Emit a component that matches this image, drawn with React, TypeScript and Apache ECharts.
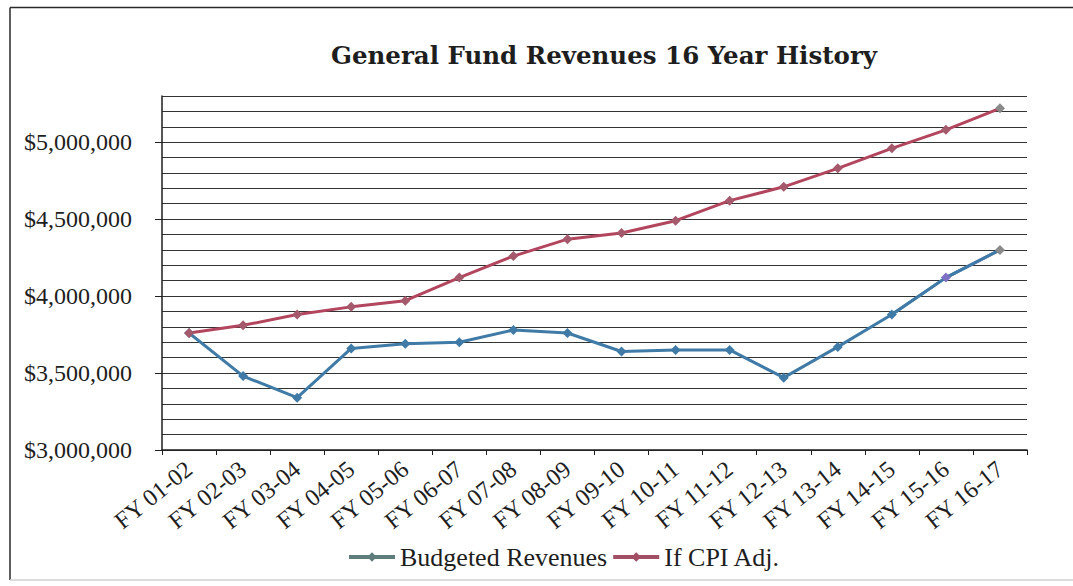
import React, { useEffect, useRef } from "react";
import * as echarts from "echarts";

// Fiscal years shown on the category axis
const fiscalYears = [
  "FY 01-02", "FY 02-03", "FY 03-04", "FY 04-05", "FY 05-06", "FY 06-07",
  "FY 07-08", "FY 08-09", "FY 09-10", "FY 10-11", "FY 11-12", "FY 12-13",
  "FY 13-14", "FY 14-15", "FY 15-16", "FY 16-17",
];

// General fund revenues as budgeted
const budgetedRevenues = [
  3760000, 3480000, 3340000, 3660000, 3690000, 3700000, 3780000, 3760000,
  3640000, 3650000, 3650000, 3470000, 3670000, 3880000, 4120000, 4300000,
];

// FY 01-02 revenues carried forward with CPI adjustment
const cpiAdjusted = [
  3760000, 3810000, 3880000, 3930000, 3970000, 4120000, 4260000, 4370000,
  4410000, 4490000, 4620000, 4710000, 4830000, 4960000, 5080000, 5220000,
];

// Labelled values on the revenue axis
const revenueTicks = [3000000, 3500000, 4000000, 4500000, 5000000];

const Y_MIN = 3000000;
const Y_MAX = 5300000;
const GRID_STEP = 100000;

const SERIF = "'Liberation Serif', 'Times New Roman', serif";
const BLUE = "#3f7ba6";
const PURPLE = "#7e70c4";
const RED = "#b3465f";
const LAST_MARK = "#8a8a8a";
const INK = "#1e1e1e";

// The last stretch of the budgeted line turns from blue to purple
const RECENT_FROM = 13;

const formatDollars = (v: number) =>
  "$" + Math.round(v).toString().replace(/\B(?=(\d{3})+(?!\d))/g, ",");

export default function App() {
  const ref = useRef<HTMLDivElement>(null);

  useEffect(() => {
    if (!ref.current) return;
    const chart = echarts.init(ref.current, undefined, { renderer: "svg" });

    const lastIdx = budgetedRevenues.length - 1;
    const budgetedPoints = budgetedRevenues.map((v, i) => {
      if (i === lastIdx) return { value: v, itemStyle: { color: LAST_MARK } };
      if (i === lastIdx - 1) return { value: v, itemStyle: { color: PURPLE } };
      return v;
    });
    const cpiPoints = cpiAdjusted.map((v, i) =>
      i === cpiAdjusted.length - 1 ? { value: v, itemStyle: { color: LAST_MARK } } : v
    );
    const recentBudgeted = budgetedRevenues.map((v, i) => (i >= RECENT_FROM ? v : null));

    chart.setOption({
      animation: false,
      backgroundColor: "#ffffff",
      title: {
        text: "General Fund Revenues 16 Year History",
        left: 331,
        top: 43,
        padding: 0,
        textStyle: {
          fontFamily: "'DejaVu Serif', serif",
          fontWeight: "bold",
          fontSize: 24.5,
          color: INK,
        },
      },
      graphic: [
        {
          type: "line",
          shape: { x1: 10, y1: 7.5, x2: 1073, y2: 7.5 },
          style: { stroke: "#2a2a2a", lineWidth: 1.5 },
          silent: true,
        },
        {
          type: "line",
          shape: { x1: 10, y1: 7.5, x2: 10, y2: 580 },
          style: { stroke: "#2a2a2a", lineWidth: 1.5 },
          silent: true,
        },
        {
          type: "line",
          shape: { x1: 10, y1: 580, x2: 1073, y2: 580 },
          style: { stroke: "#d0d0d0", lineWidth: 1.5 },
          silent: true,
        },
      ],
      grid: { left: 162, right: 46, top: 96, bottom: 136 },
      legend: {
        left: 347,
        top: 544,
        padding: 0,
        itemWidth: 46,
        itemHeight: 12,
        itemGap: 4,
        textStyle: { fontFamily: SERIF, fontSize: 26, color: INK },
        data: [
          { name: "Budgeted Revenues", itemStyle: { color: "#5f7d7b" }, lineStyle: { color: "#5f7d7b", width: 4 } },
          { name: "If CPI Adj.", itemStyle: { color: "#a24e64" }, lineStyle: { color: "#a24e64", width: 4 } },
        ],
      },
      xAxis: {
        type: "category",
        data: fiscalYears,
        boundaryGap: true,
        axisLine: { lineStyle: { color: INK, width: 1.5 } },
        axisTick: { show: true, interval: 0, length: 5, lineStyle: { color: INK } },
        axisLabel: {
          interval: 0,
          rotate: 39,
          margin: 16,
          fontFamily: SERIF,
          fontSize: 24,
          color: INK,
        },
      },
      yAxis: [
        {
          // gridlines every 100,000
          type: "value",
          min: Y_MIN,
          max: Y_MAX,
          interval: GRID_STEP,
          axisLine: { show: true, lineStyle: { color: INK, width: 1.5 } },
          axisTick: { show: false },
          axisLabel: { show: false },
          splitLine: { show: true, lineStyle: { color: "#333333", width: 1 } },
        },
        {
          // labelled ticks every 500,000
          type: "value",
          position: "left",
          min: Y_MIN,
          max: Y_MAX,
          interval: GRID_STEP,
          axisLine: { show: false },
          axisTick: { show: true, customValues: revenueTicks, length: 7, lineStyle: { color: INK } },
          axisLabel: {
            customValues: revenueTicks,
            formatter: (v: number) => formatDollars(v),
            margin: 30,
            fontFamily: SERIF,
            fontSize: 24,
            color: INK,
          },
          splitLine: { show: false },
        },
      ],
      series: [
        {
          name: "Budgeted Revenues",
          type: "line",
          data: budgetedPoints,
          symbol: "diamond",
          symbolSize: 10,
          lineStyle: { width: 3, color: BLUE },
          itemStyle: { color: BLUE },
          z: 3,
        },
        {
          name: "Budgeted Revenues",
          type: "line",
          data: recentBudgeted,
          symbol: "none",
          silent: true,
          lineStyle: {
            width: 3,
            color: new echarts.graphic.LinearGradient(0, 0, 1, 0, [
              { offset: 0, color: BLUE },
              { offset: 0.62, color: BLUE },
              { offset: 0.75, color: PURPLE },
              { offset: 1, color: PURPLE },
            ]),
          },
          z: 2,
        },
        {
          name: "If CPI Adj.",
          type: "line",
          data: cpiPoints,
          symbol: "diamond",
          symbolSize: 10,
          lineStyle: { width: 3, color: RED },
          itemStyle: { color: "#a45a6c" },
          z: 3,
        },
      ],
    });
    return () => chart.dispose();
  }, []);

  return (
    <div
      ref={ref}
      style={{ position: "fixed", left: 0, top: 0, width: 1073, height: 586, background: "#fff" }}
    />
  );
}
